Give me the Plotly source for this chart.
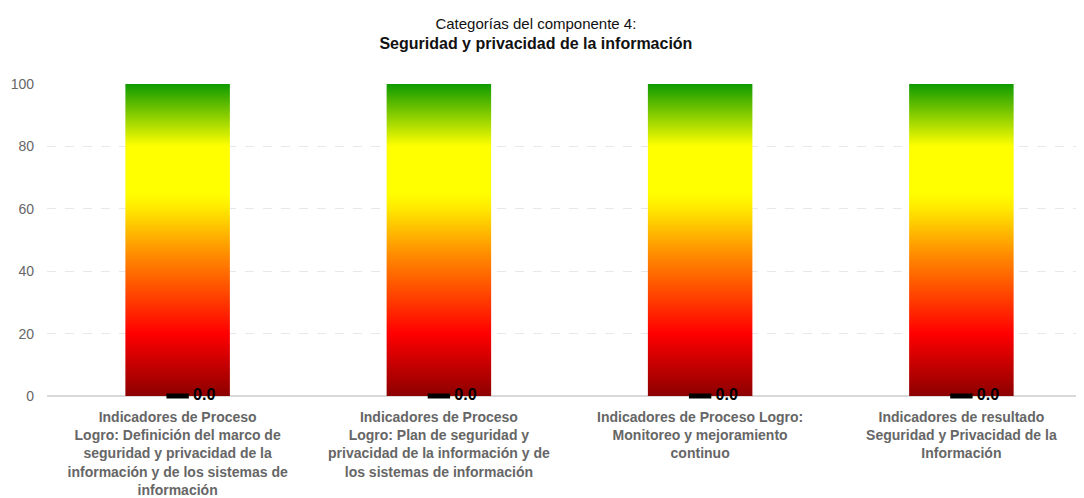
import plotly.graph_objects as go

categories = [
    "Indicadores de Proceso<br>Logro: Definición del marco de<br>seguridad y privacidad de la<br>información y de los sistemas de<br>información",
    "Indicadores de Proceso<br>Logro: Plan de seguridad y<br>privacidad de la información y de<br>los sistemas de información",
    "Indicadores de Proceso Logro:<br>Monitoreo y mejoramiento<br>continuo",
    "Indicadores de resultado<br>Seguridad y Privacidad de la<br>Información",
]
values = [0.0, 0.0, 0.0, 0.0]
scale_max = [100, 100, 100, 100]
y_ticks = [0, 20, 40, 60, 80, 100]

half = 0.2
pos = list(range(len(categories)))

# background gradient bars: one closed rectangle per category
bx, by = [], []
for i, top in zip(pos, scale_max):
    bx += [i - half, i + half, i + half, i - half, i - half, None]
    by += [0, 0, top, top, 0, None]

fig = go.Figure()
fig.add_trace(
    go.Scatter(
        x=bx,
        y=by,
        mode="lines",
        fill="toself",
        line={"width": 0},
        fillgradient={
            "type": "vertical",
            "colorscale": [
                [0.0, "#8c0000"],
                [0.2, "#ff0000"],
                [0.45, "#ff8a00"],
                [0.6, "#ffe800"],
                [0.65, "#ffff00"],
                [0.8, "#ffff00"],
                [1.0, "#0f9a00"],
            ],
        },
        hoverinfo="skip",
        showlegend=False,
    )
)

fig.add_trace(
    go.Scatter(
        x=pos,
        y=values,
        mode="markers+text",
        marker={"symbol": "line-ew", "size": 16, "line": {"width": 5, "color": "black"}},
        text=["\u00a0" + f"{v:.1f}" for v in values],
        textposition="middle right",
        textfont={"family": "Arial, Liberation Sans", "size": 16, "color": "black", "weight": "bold"},
        showlegend=False,
        cliponaxis=False,
    )
)

# the page body adds an 8px offset, so margins are shifted to compensate
fig.update_layout(
    width=1084,
    height=498,
    paper_bgcolor="white",
    plot_bgcolor="white",
    margin={"l": 39, "r": 0, "t": 76, "b": 110, "autoexpand": False},
    font={"family": "Arial, Liberation Sans", "color": "#666666"},
    title={
        "text": "Categorías del componente 4:<br><span style='font-size:16px'><b>Seguridad y privacidad de la información</b></span>",
        "x": 0.487,
        "xanchor": "center",
        "xref": "container",
        "y": 0.957,
        "yanchor": "middle",
        "yref": "container",
        "automargin": False,
        "font": {"size": 15, "color": "#111111"},
    },
    xaxis={
        "range": [-0.5, len(categories) - 0.5],
        "tickvals": pos,
        "ticktext": [f"<b>{c}</b>" for c in categories],
        "tickfont": {"size": 14, "color": "#666666"},
        "showgrid": False,
        "zeroline": False,
        "ticks": "",
        "automargin": False,
        "ticklabelstandoff": 11,
        "fixedrange": True,
    },
    yaxis={
        "range": [0, 100],
        "tickvals": y_ticks,
        "tickfont": {"size": 14, "color": "#666666"},
        "showgrid": True,
        "gridcolor": "#e8e8e8",
        "griddash": "dash",
        "zeroline": True,
        "zerolinecolor": "#d9d9d9",
        "zerolinewidth": 2,
        "automargin": False,
        "ticklabelstandoff": 12,
    },
)

fig.write_html("out.html")
